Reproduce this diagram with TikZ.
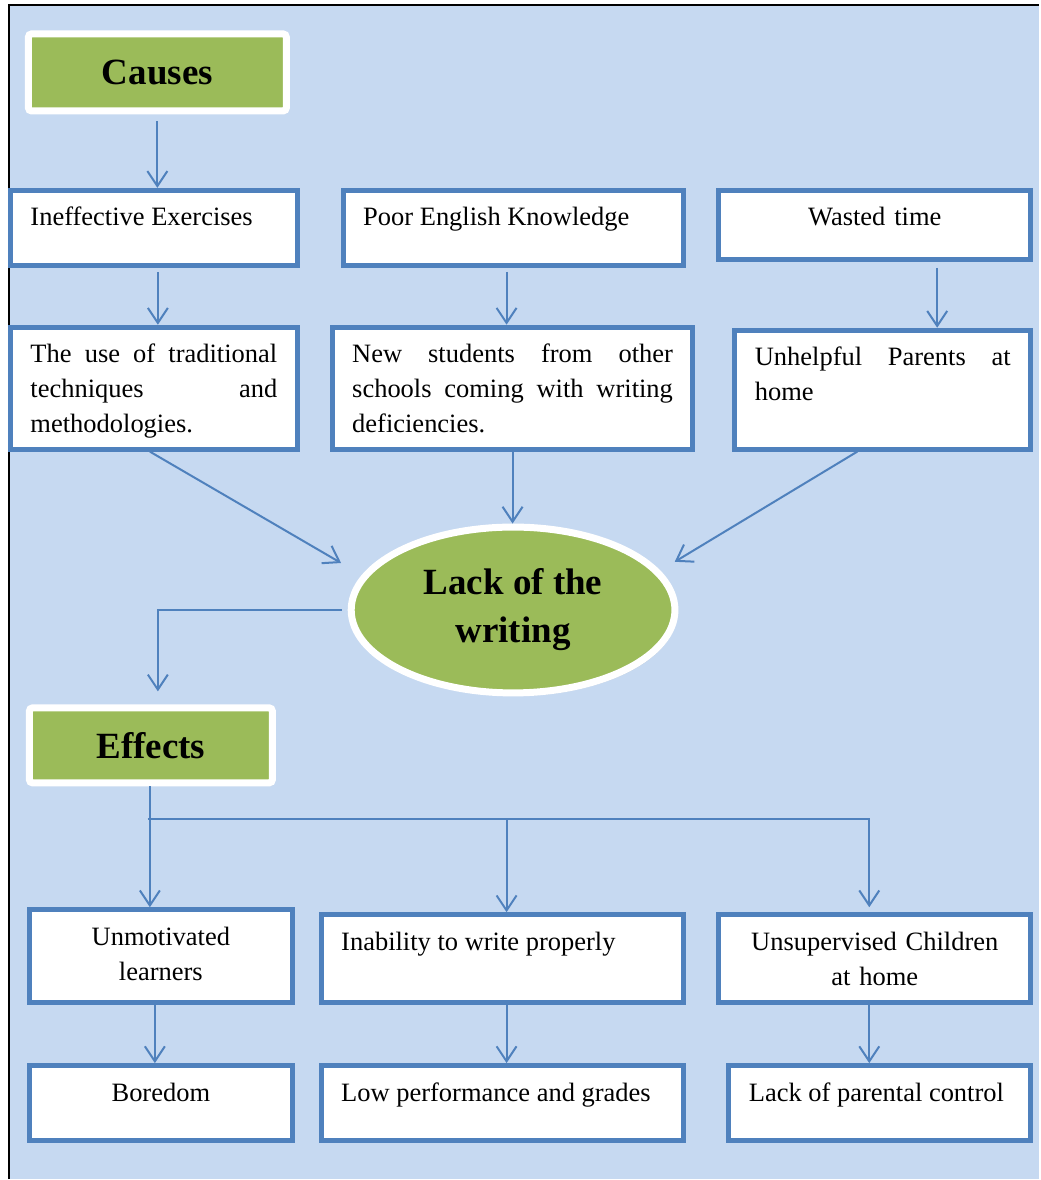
\documentclass[tikz,border=0pt]{standalone}
\usepackage{fontspec}
\setmainfont{Liberation Serif}
\usepackage{xcolor}
\usepackage{tikz}
\usetikzlibrary{arrows.meta, shapes.geometric, shadows}

\definecolor{bgblue}{HTML}{C6D9F1}
\definecolor{boxblue}{HTML}{4F81BD}
\definecolor{leafgreen}{HTML}{9BBB59}

\hyphenpenalty=10000
\exhyphenpenalty=10000
\tolerance=10000

\begin{document}
\begin{tikzpicture}[x=1pt, y=-1pt,
    card/.style={draw=boxblue, line width=5pt, fill=white, anchor=north west,
      font=\fontsize{26.5}{35}\selectfont, inner xsep=20pt, inner ysep=15.5pt,
      outer sep=2.5pt, text height=20pt},
    header/.style={draw=white, line width=7pt, fill=leafgreen, rounded corners=3pt,
      font=\fontsize{37}{48}\selectfont\bfseries,
      drop shadow={shadow xshift=2pt, shadow yshift=-3pt, opacity=0.25}},
    link/.style={boxblue, line width=2pt, -{Straight Barb[length=15pt, width=20pt]}}]

  % Frame and background
  \fill[white] (0,0) rectangle (1040,1180);
  \fill[bgblue] (9,5) rectangle (1040,1180);
  \draw[black, line width=2pt] (9,1180) -- (9,5) -- (1040,5);
  \useasboundingbox (0,0) rectangle (1040,1180);

  % Causes
  \node[header, minimum width=258pt, minimum height=77pt] (causes) at (157.5,72.5) {Causes};

  \node[card, text width=247pt, text depth=24pt, align=justify] (ineff) at (8,188) {Ineffective Exercises};
  \node[card, text width=301pt, text depth=24pt, align=justify] (poor) at (341,188) {Poor English Knowledge};
  \node[card, text width=272pt, text depth=18pt, align=center] (wasted) at (717,188) {Wasted time};

  \node[card, text width=247pt, text depth=71pt, align=justify] (trad) at (8,325)
    {The use of traditional techniques and methodologies.};
  \node[card, text width=321pt, text depth=71pt, align=justify] (newst) at (330,325)
    {New students from other schools coming with writing deficiencies.};
  \node[card, text width=256pt, text depth=68pt, align=justify] (unhelp) at (733,328)
    {Unhelpful Parents at home};

  % Central problem
  \node[header, ellipse, sharp corners, minimum width=324pt, minimum height=166pt,
    inner sep=0pt, align=center] (lack) at (513.5,610.5) {Lack of the\\writing};

  % Effects
  \node[header, minimum width=243pt, minimum height=75pt] (effects) at (151,746) {Effects};

  \node[card, text width=223pt, text depth=42pt, align=center] (unmot) at (27,908) {Unmotivated\\learners};
  \node[card, text width=323pt, text depth=37pt, align=justify] (inab) at (319,913) {Inability to write properly};
  \node[card, text width=272pt, text depth=37pt, align=center] (unsup) at (717,913) {Unsupervised Children\\at home};

  \node[card, text width=223pt, text depth=24pt, align=center] (bored) at (27,1064) {Boredom};
  \node[card, text width=323pt, text depth=24pt, align=justify] (lowperf) at (319,1064) {Low performance and grades};
  \node[card, text width=262pt, text depth=24pt, align=justify] (lackpc) at (727,1064) {Lack of parental control};

  % Cause arrows
  \draw[link, shorten <=7pt] (causes.south) -- (causes.south |- ineff.north);
  \draw[link, shorten <=4pt] ([xshift=4pt]ineff.south) -- ([xshift=4pt]trad.north);
  \draw[link, shorten <=4pt] ([xshift=-7pt]poor.south) -- ([xshift=-7pt]poor.south |- newst.north);
  \draw[link, shorten <=6pt] ([xshift=62.5pt]wasted.south) -- ([xshift=62.5pt]wasted.south |- unhelp.north);

  % Into the ellipse
  \draw[link, shorten >=24pt] ([xshift=-4pt]trad.south) -- (lack.167);
  \draw[link] (newst.south) -- (newst.south |- lack.north);
  \draw[link, shorten >=17pt] ([xshift=-25.5pt]unhelp.south) -- (lack.15);

  % Effect arrows
  \draw[link, shorten <=6pt, shorten >=13pt] (lack.west) -| ([xshift=7pt]effects.north);
  \draw[link] ([xshift=-1pt]effects.south) -- ([xshift=-1pt]effects.south |- unmot.north);
  \coordinate (fork) at (148,820);
  \draw[link] (fork) -| ([xshift=4pt]inab.north);
  \draw[link, shorten >=5pt] (fork) -| ([xshift=-5.5pt]unsup.north);

  \draw[link] ([xshift=-6pt]unmot.south) -- ([xshift=-6pt]bored.north);
  \draw[link] ([xshift=4pt]inab.south) -- ([xshift=4pt]lowperf.north);
  \draw[link] ([xshift=-5.5pt]unsup.south) -- ([xshift=-5.5pt]unsup.south |- lackpc.north);

\end{tikzpicture}
\end{document}
